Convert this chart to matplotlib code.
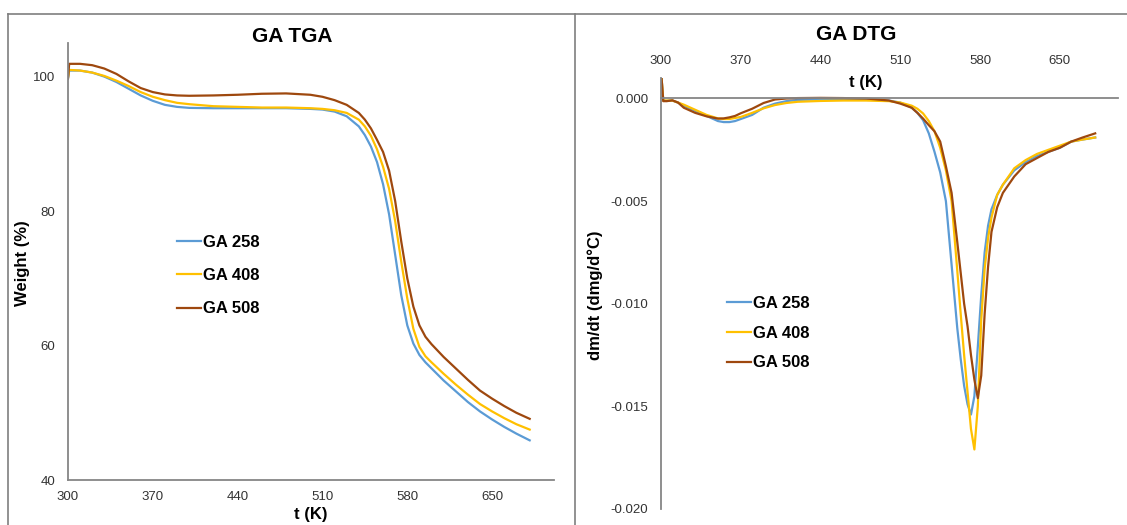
import numpy as np
import matplotlib.pyplot as plt
from matplotlib.lines import Line2D

plt.rcParams['font.family'] = ['Liberation Sans', 'DejaVu Sans']

# ----------------------
# TGA data: weight (%) vs temperature (K)
# ----------------------
T_tga = [300, 301, 310, 320, 330, 340, 350, 360, 370, 380, 390, 400, 420, 440, 460, 480,
         500, 510, 520, 530, 540, 545, 550, 555, 560, 565, 570, 575, 580, 585, 590, 595,
         600, 610, 620, 630, 640, 650, 660, 670, 681]

w_258 = [99.7, 100.9, 100.9, 100.6, 100.0, 99.2, 98.2, 97.2, 96.4, 95.8, 95.5, 95.35, 95.3, 95.3, 95.3, 95.3,
         95.2, 95.1, 94.8, 94.1, 92.6, 91.3, 89.6, 87.3, 84.0, 79.5, 73.5, 67.5, 63.0, 60.3, 58.6, 57.5,
         56.6, 54.8, 53.2, 51.6, 50.2, 49.0, 47.9, 46.9, 45.9]
w_408 = [99.8, 101.0, 100.9, 100.6, 100.1, 99.4, 98.6, 97.7, 97.0, 96.5, 96.1, 95.9, 95.6, 95.5, 95.4, 95.4,
         95.3, 95.2, 95.0, 94.6, 93.6, 92.6, 91.2, 89.2, 86.6, 83.3, 78.5, 72.5, 67.0, 62.5, 59.8, 58.4,
         57.5, 55.8, 54.2, 52.7, 51.3, 50.2, 49.2, 48.3, 47.5]
w_508 = [99.7, 101.9, 101.9, 101.7, 101.2, 100.4, 99.3, 98.3, 97.7, 97.35, 97.2, 97.15, 97.2, 97.3, 97.45, 97.5,
         97.3, 97.0, 96.5, 95.8, 94.6, 93.6, 92.3, 90.6, 88.8, 86.0, 81.5, 75.5, 70.0, 65.8, 63.0, 61.3,
         60.2, 58.3, 56.6, 54.9, 53.3, 52.1, 51.0, 50.0, 49.1]

# ----------------------
# DTG data: dm/dt vs temperature (K)
# ----------------------
T_dtg = [300.5, 302, 305, 310, 315, 320, 330, 340, 350, 355, 360, 365, 370, 380, 390, 400, 410, 420,
         440, 460, 480, 500, 510, 520, 525, 530, 535, 540, 545, 550, 555, 560, 563, 566, 569, 572,
         575, 578, 581, 584, 587, 590, 595, 600, 610, 620, 630, 640, 650, 660, 670, 681]

d_258 = [0.001, -0.0001, -0.00012, -0.0001, -0.0002, -0.00035, -0.0006, -0.00085, -0.0011, -0.00115,
         -0.00115, -0.0011, -0.001, -0.0008, -0.00045, -0.00025, -0.00013, -0.00007,
         -0.00004, -0.00003, -0.00004, -0.0001, -0.0002, -0.00045, -0.0007, -0.00106, -0.0017, -0.0026,
         -0.0036, -0.0050, -0.0081, -0.0112, -0.0127, -0.0140, -0.0149, -0.0154,
         -0.0145, -0.0121, -0.0096, -0.0075, -0.0062, -0.0054, -0.0047, -0.0042, -0.0035, -0.0031,
         -0.0028, -0.0026, -0.0024, -0.0021, -0.0020, -0.0019]
d_408 = [0.001, -0.0001, -0.0001, -0.0001, -0.0002, -0.0003, -0.00055, -0.0008, -0.00097, -0.001,
         -0.001, -0.00095, -0.0009, -0.0007, -0.00048, -0.00032, -0.00022, -0.00016,
         -0.00012, -0.0001, -0.0001, -0.00013, -0.0002, -0.00035, -0.0005, -0.00073, -0.0011, -0.0016,
         -0.0024, -0.0035, -0.0050, -0.0084, -0.0105, -0.0125, -0.0143, -0.0161,
         -0.0171, -0.0150, -0.0108, -0.0083, -0.0068, -0.0058, -0.0047, -0.0042, -0.0034, -0.0030,
         -0.0027, -0.0025, -0.0023, -0.0021, -0.0020, -0.0019]
d_508 = [0.001, -0.00013, -0.00013, -0.00009, -0.0002, -0.00045, -0.0007, -0.00087, -0.00098, -0.00097,
         -0.00092, -0.00085, -0.00072, -0.0005, -0.00022, -0.00005, 0.0, 0.00002,
         0.00003, 0.00002, 0.0, -0.0001, -0.00025, -0.00045, -0.0007, -0.00098, -0.0013, -0.0016,
         -0.0021, -0.0033, -0.0046, -0.0070, -0.0085, -0.0100, -0.0111, -0.0125,
         -0.0137, -0.0146, -0.0135, -0.0105, -0.0082, -0.0065, -0.0053, -0.0046, -0.0038, -0.0032,
         -0.0029, -0.0026, -0.0024, -0.0021, -0.0019, -0.0017]

labels = ['GA 258', 'GA 408', 'GA 508']
colors = ['#5B9BD5', '#FFC000', '#9E480E']
x_ticks = [300, 370, 440, 510, 580, 650]

axis_gray = '#868686'
tick_color = '#333333'

fig = plt.figure(figsize=(11.27, 5.25), dpi=100)

# ----------------------
# left panel: TGA
# ----------------------
ax1 = fig.add_axes([0.0603, 0.0857, 0.4312, 0.8324])
for w, c, lab in zip([w_258, w_408, w_508], colors, labels):
    ax1.plot(T_tga, w, color=c, lw=1.6, label=lab)
ax1.set_xlim(300, 701)
ax1.set_ylim(40, 105)
ax1.set_xticks(x_ticks)
ax1.set_yticks([40, 60, 80, 100])
for s in ['top', 'right']:
    ax1.spines[s].set_visible(False)
for s in ['left', 'bottom']:
    ax1.spines[s].set_color(axis_gray)
    ax1.spines[s].set_linewidth(1.3)
ax1.tick_params(length=0, labelsize=9.5, labelcolor=tick_color)
ax1.tick_params(axis='x', pad=8)
ax1.tick_params(axis='y', pad=9)
ax1.text(0.5, -0.08, 't (K)', transform=ax1.transAxes, ha='center', va='center',
         fontsize=12, fontweight='bold')
ax1.legend(loc='upper left', bbox_to_anchor=(177 / 1127, 1 - 235 / 525),
           bbox_transform=fig.transFigure, frameon=False, prop={'size': 12, 'weight': 'bold'},
           handlelength=1.45, handletextpad=0.12, labelspacing=1.09, borderaxespad=0, borderpad=0)

# ----------------------
# right panel: DTG
# ----------------------
ax2 = fig.add_axes([0.5865, 0.0305, 0.4055, 0.821])
for d, c, lab in zip([d_258, d_408, d_508], colors, labels):
    ax2.plot(T_dtg, d, color=c, lw=1.6, label=lab)
ax2.set_xlim(300, 701)
ax2.set_ylim(-0.020, 0.001)
ax2.set_xticks(x_ticks)
ax2.set_yticks([-0.020, -0.015, -0.010, -0.005, 0.000])
ax2.yaxis.set_major_formatter(plt.FormatStrFormatter('%.3f'))
ax2.spines['top'].set_visible(False)
ax2.spines['right'].set_visible(False)
ax2.spines['bottom'].set_position(('data', 0))
for s in ['left', 'bottom']:
    ax2.spines[s].set_color(axis_gray)
    ax2.spines[s].set_linewidth(1.3)
ax2.tick_params(length=0, labelsize=9.5, labelcolor=tick_color)
ax2.tick_params(axis='x', labelbottom=False, labeltop=True, pad=8)
ax2.tick_params(axis='y', pad=9)
ax2.text(0.448, 0.99, 't (K)', transform=ax2.transAxes, ha='center', va='center',
         fontsize=12, fontweight='bold')
ax2.legend(loc='upper left', bbox_to_anchor=(727 / 1127, 1 - 296 / 525),
           bbox_transform=fig.transFigure, frameon=False, prop={'size': 12, 'weight': 'bold'},
           handlelength=1.45, handletextpad=0.12, labelspacing=0.88, borderaxespad=0, borderpad=0)

# ----------------------
# titles and y labels
# ----------------------
fig.text(292 / 1127, 1 - 36 / 525, 'GA TGA', ha='center', va='center', fontsize=15, fontweight='bold')
fig.text(856 / 1127, 1 - 35 / 525, 'GA DTG', ha='center', va='center', fontsize=15, fontweight='bold')
fig.text(23 / 1127, 1 - 263 / 525, 'Weight (%)', rotation=90, ha='center', va='center',
         fontsize=12, fontweight='bold')
fig.text(595 / 1127, 1 - 295 / 525, 'dm/dt (dmg/d°C)', rotation=90, ha='center', va='center',
         fontsize=12, fontweight='bold')

# panel frame
frame_kw = dict(transform=fig.transFigure, color='#7f7f7f', lw=1.2)
fig.add_artist(Line2D([8 / 1127, 1], [1 - 14 / 525, 1 - 14 / 525], **frame_kw))
fig.add_artist(Line2D([8 / 1127, 8 / 1127], [0, 1 - 14 / 525], **frame_kw))
fig.add_artist(Line2D([575 / 1127, 575 / 1127], [0, 1 - 14 / 525], **frame_kw))

fig.savefig('out.png', dpi=100)
